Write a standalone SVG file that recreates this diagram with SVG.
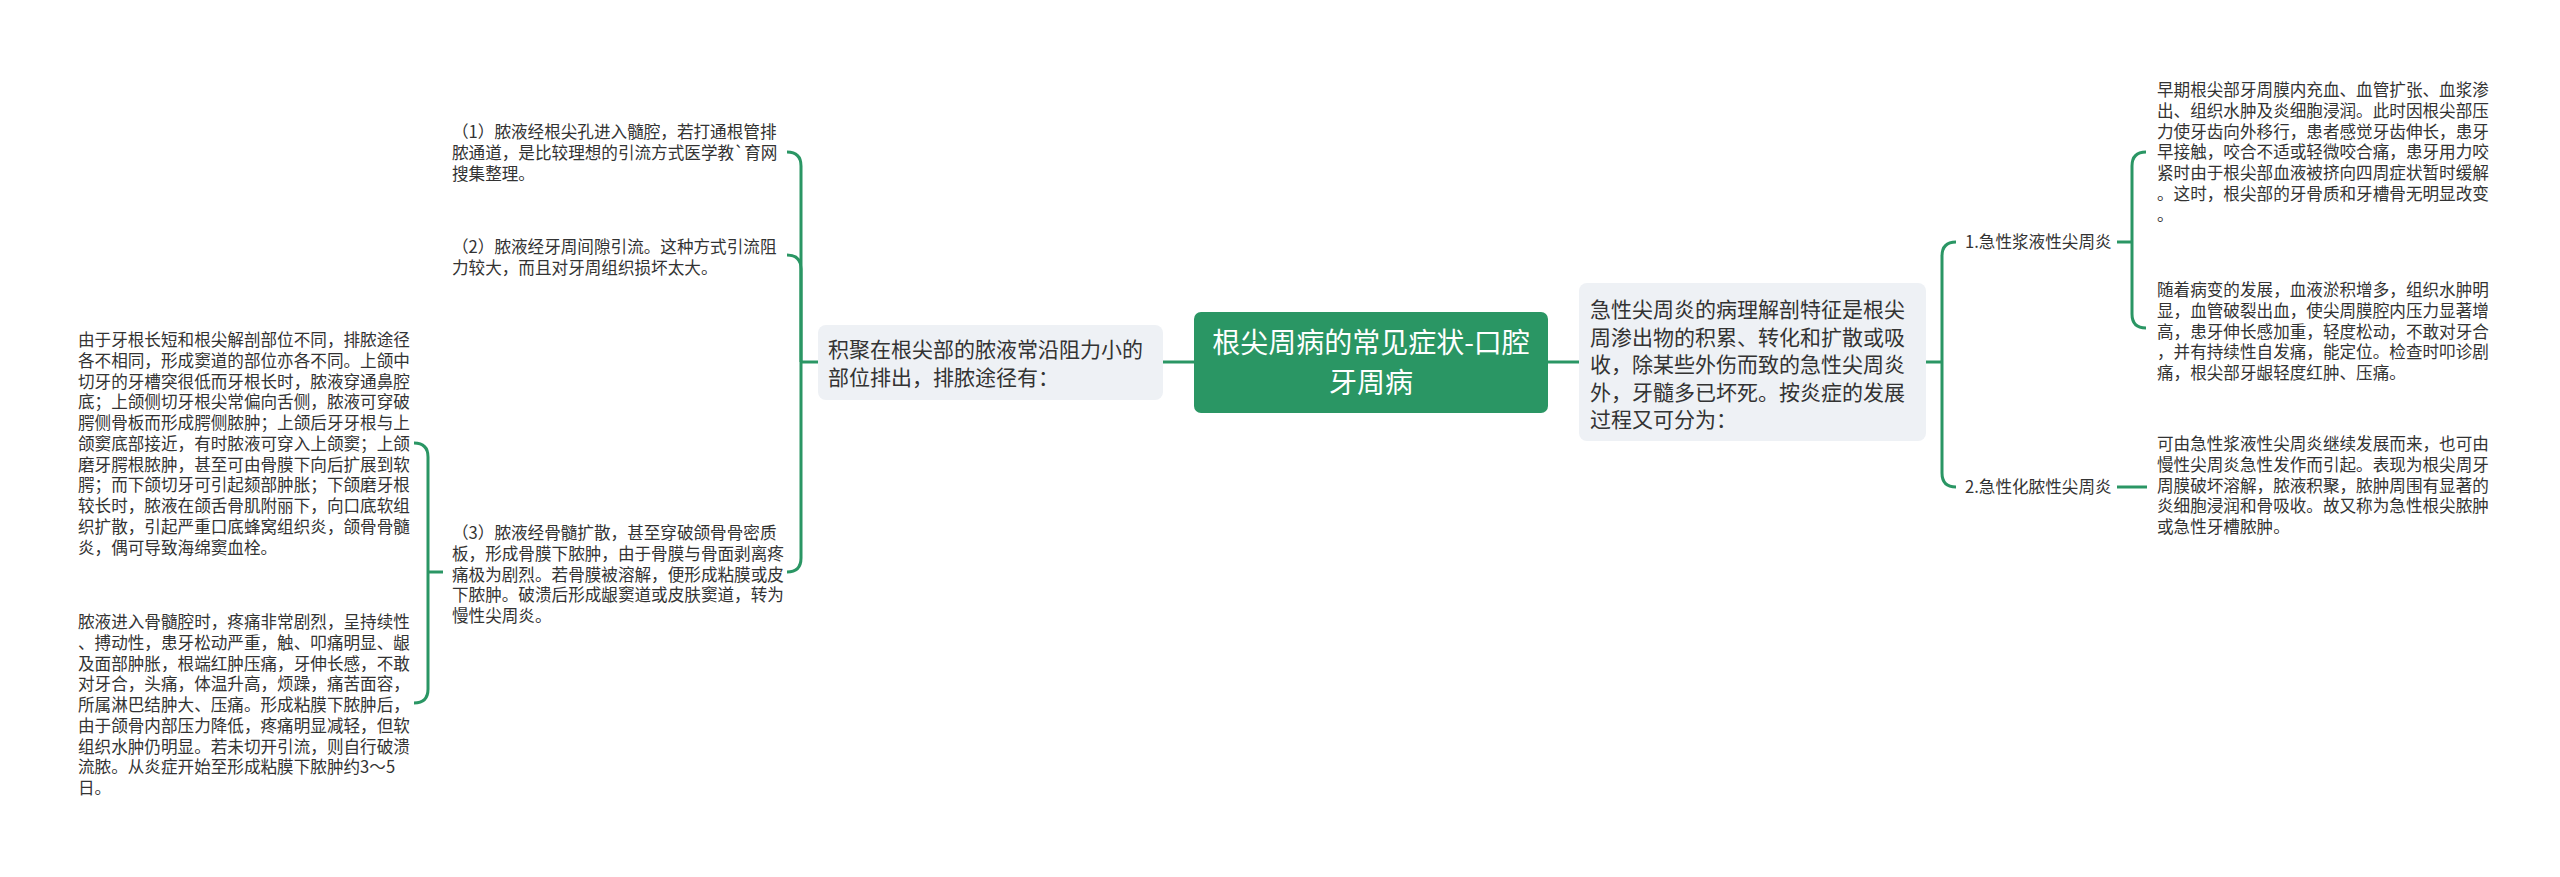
<svg xmlns="http://www.w3.org/2000/svg" width="2560" height="877" viewBox="0 0 2560 877">
<style>
text{font-family:"Noto Sans CJK SC","Noto Sans",sans-serif;fill:#333333;}
.s{font-size:16.6px;}
.m{font-size:21px;}
.c{font-size:28px;fill:#ffffff;}
.box{fill:#eef1f5;}
.edge{fill:none;stroke:#2a9664;stroke-width:3;}
</style>
<rect width="2560" height="877" fill="#ffffff"/>
<g id="connectors">
<path class="edge" d="M1163 362H1194"/>
<path class="edge" d="M1548 362H1579"/>
<path class="edge" d="M818 362H801"/>
<path class="edge" d="M801 362V166Q801 152 787 152"/>
<path class="edge" d="M801 362V269Q801 255 787 255"/>
<path class="edge" d="M801 362V558Q801 572 787 572"/>
<path class="edge" d="M443 572H428"/>
<path class="edge" d="M428 572V457Q428 443 414 443"/>
<path class="edge" d="M428 572V689Q428 703 414 703"/>
<path class="edge" d="M1926 362H1942"/>
<path class="edge" d="M1942 362V256Q1942 242 1956 242"/>
<path class="edge" d="M1942 362V473Q1942 487 1956 487"/>
<path class="edge" d="M2117 242H2132"/>
<path class="edge" d="M2132 242V166Q2132 152 2146 152"/>
<path class="edge" d="M2132 242V314Q2132 328 2146 328"/>
<path class="edge" d="M2117 487H2147"/>
</g>
<g id="root">
<rect x="1194" y="312" width="354" height="101" rx="7" fill="#2a9664"/>
<text class="c" x="1371" y="352.5" text-anchor="middle">根尖周病的常见症状-口腔</text>
<text class="c" x="1371" y="392.5" text-anchor="middle">牙周病</text>
</g>
<g id="left-main">
<rect class="box" x="818" y="325" width="345" height="75" rx="8"/>
<text class="m" x="828" y="356.5">积聚在根尖部的脓液常沿阻力小的</text>
<text class="m" x="828" y="384.5">部位排出，排脓途径有：</text>
</g>
<g id="left-1">
<text class="s" x="452" y="138">（1）脓液经根尖孔进入髓腔，若打通根管排</text>
<text class="s" x="452" y="158.75">脓通道，是比较理想的引流方式医学教`育网</text>
<text class="s" x="452" y="179.5">搜集整理。</text>
</g>
<g id="left-2">
<text class="s" x="452" y="253">（2）脓液经牙周间隙引流。这种方式引流阻</text>
<text class="s" x="452" y="273.75">力较大，而且对牙周组织损坏太大。</text>
</g>
<g id="left-3">
<text class="s" x="452" y="539">（3）脓液经骨髓扩散，甚至穿破颌骨骨密质</text>
<text class="s" x="452" y="559.75">板，形成骨膜下脓肿，由于骨膜与骨面剥离疼</text>
<text class="s" x="452" y="580.5">痛极为剧烈。若骨膜被溶解，便形成粘膜或皮</text>
<text class="s" x="452" y="601.25">下脓肿。破溃后形成龈窦道或皮肤窦道，转为</text>
<text class="s" x="452" y="622">慢性尖周炎。</text>
</g>
<g id="left-3a">
<text class="s" x="78" y="346">由于牙根长短和根尖解剖部位不同，排脓途径</text>
<text class="s" x="78" y="366.75">各不相同，形成窦道的部位亦各不同。上颌中</text>
<text class="s" x="78" y="387.5">切牙的牙槽突很低而牙根长时，脓液穿通鼻腔</text>
<text class="s" x="78" y="408.25">底；上颌侧切牙根尖常偏向舌侧，脓液可穿破</text>
<text class="s" x="78" y="429">腭侧骨板而形成腭侧脓肿；上颌后牙牙根与上</text>
<text class="s" x="78" y="449.75">颌窦底部接近，有时脓液可穿入上颌窦；上颌</text>
<text class="s" x="78" y="470.5">磨牙腭根脓肿，甚至可由骨膜下向后扩展到软</text>
<text class="s" x="78" y="491.25">腭；而下颌切牙可引起颏部肿胀；下颌磨牙根</text>
<text class="s" x="78" y="512">较长时，脓液在颌舌骨肌附丽下，向口底软组</text>
<text class="s" x="78" y="532.75">织扩散，引起严重口底蜂窝组织炎，颌骨骨髓</text>
<text class="s" x="78" y="553.5">炎，偶可导致海绵窦血栓。</text>
</g>
<g id="left-3b">
<text class="s" x="78" y="628">脓液进入骨髓腔时，疼痛非常剧烈，呈持续性</text>
<text class="s" x="78" y="648.75">、搏动性，患牙松动严重，触、叩痛明显、龈</text>
<text class="s" x="78" y="669.5">及面部肿胀，根端红肿压痛，牙伸长感，不敢</text>
<text class="s" x="78" y="690.25">对牙合，头痛，体温升高，烦躁，痛苦面容，</text>
<text class="s" x="78" y="711">所属淋巴结肿大、压痛。形成粘膜下脓肿后，</text>
<text class="s" x="78" y="731.75">由于颌骨内部压力降低，疼痛明显减轻，但软</text>
<text class="s" x="78" y="752.5">组织水肿仍明显。若未切开引流，则自行破溃</text>
<text class="s" x="78" y="773.25">流脓。从炎症开始至形成粘膜下脓肿约3～5</text>
<text class="s" x="78" y="794">日。</text>
</g>
<g id="right-main">
<rect class="box" x="1579" y="283" width="347" height="158" rx="8"/>
<text class="m" x="1590" y="317">急性尖周炎的病理解剖特征是根尖</text>
<text class="m" x="1590" y="344.5">周渗出物的积累、转化和扩散或吸</text>
<text class="m" x="1590" y="372">收，除某些外伤而致的急性尖周炎</text>
<text class="m" x="1590" y="399.5">外，牙髓多已坏死。按炎症的发展</text>
<text class="m" x="1590" y="427">过程又可分为：</text>
</g>
<g id="right-1">
<text class="s" x="1965" y="248">1.急性浆液性尖周炎</text>
</g>
<g id="right-1a">
<text class="s" x="2157" y="96">早期根尖部牙周膜内充血、血管扩张、血浆渗</text>
<text class="s" x="2157" y="116.75">出、组织水肿及炎细胞浸润。此时因根尖部压</text>
<text class="s" x="2157" y="137.5">力使牙齿向外移行，患者感觉牙齿伸长，患牙</text>
<text class="s" x="2157" y="158.25">早接触，咬合不适或轻微咬合痛，患牙用力咬</text>
<text class="s" x="2157" y="179">紧时由于根尖部血液被挤向四周症状暂时缓解</text>
<text class="s" x="2157" y="199.75">。这时，根尖部的牙骨质和牙槽骨无明显改变</text>
<text class="s" x="2157" y="220.5">。</text>
</g>
<g id="right-1b">
<text class="s" x="2157" y="296">随着病变的发展，血液淤积增多，组织水肿明</text>
<text class="s" x="2157" y="316.75">显，血管破裂出血，使尖周膜腔内压力显著增</text>
<text class="s" x="2157" y="337.5">高，患牙伸长感加重，轻度松动，不敢对牙合</text>
<text class="s" x="2157" y="358.25">，并有持续性自发痛，能定位。检查时叩诊剧</text>
<text class="s" x="2157" y="379">痛，根尖部牙龈轻度红肿、压痛。</text>
</g>
<g id="right-2">
<text class="s" x="1965" y="493">2.急性化脓性尖周炎</text>
</g>
<g id="right-2a">
<text class="s" x="2157" y="450">可由急性浆液性尖周炎继续发展而来，也可由</text>
<text class="s" x="2157" y="470.75">慢性尖周炎急性发作而引起。表现为根尖周牙</text>
<text class="s" x="2157" y="491.5">周膜破坏溶解，脓液积聚，脓肿周围有显著的</text>
<text class="s" x="2157" y="512.25">炎细胞浸润和骨吸收。故又称为急性根尖脓肿</text>
<text class="s" x="2157" y="533">或急性牙槽脓肿。</text>
</g>
</svg>
